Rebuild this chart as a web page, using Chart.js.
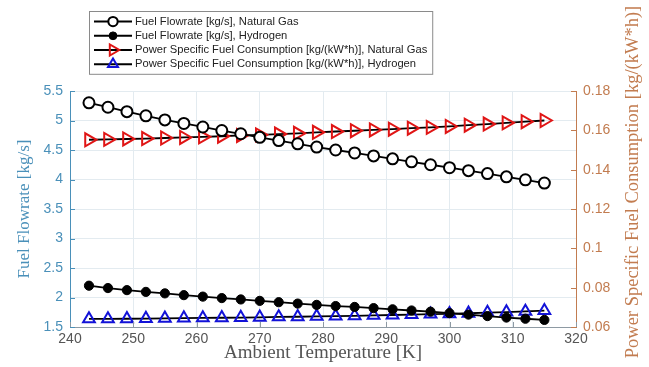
<!DOCTYPE html>
<html>
<head>
<meta charset="utf-8">
<script src="https://cdn.jsdelivr.net/npm/chart.js@4.4.1/dist/chart.umd.min.js"></script>
<style>
  html, body { margin: 0; padding: 0; background: #ffffff; }
  #wrap { width: 649px; height: 367px; }
</style>
</head>
<body>
<div id="wrap"><canvas id="chart" width="649" height="367"></canvas></div>
<script>
// Ambient temperature samples [K]
const temperatures = [243, 246, 249, 252, 255, 258, 261, 264, 267, 270, 273, 276, 279,
                      282, 285, 288, 291, 294, 297, 300, 303, 306, 309, 312, 315];

// Fuel flowrate [kg/s]
const ngFlow = [5.30, 5.225, 5.15, 5.08, 5.01, 4.95, 4.89, 4.83, 4.775, 4.715, 4.66, 4.605, 4.55,
                4.50, 4.45, 4.40, 4.35, 4.30, 4.25, 4.20, 4.15, 4.10, 4.045, 3.995, 3.94];
const h2Flow = [2.20, 2.16, 2.125, 2.095, 2.07, 2.04, 2.015, 1.99, 1.967, 1.943, 1.92, 1.897, 1.875,
                1.855, 1.84, 1.82, 1.80, 1.78, 1.76, 1.735, 1.71, 1.685, 1.66, 1.64, 1.62];

// Power specific fuel consumption [kg/(kW*h)]
const ngPsfc = [0.1552, 0.1554, 0.1556, 0.1558, 0.1561, 0.1564, 0.1567, 0.1570, 0.1574, 0.1577,
                0.1581, 0.1585, 0.1590, 0.1594, 0.1598, 0.1602, 0.1606, 0.1611, 0.1615, 0.1620,
                0.1626, 0.1632, 0.1638, 0.1644, 0.1650];
const h2Psfc = [0.0641, 0.0641, 0.0642, 0.0643, 0.0644, 0.0645, 0.0646, 0.0647, 0.0648, 0.0649,
                0.0651, 0.0652, 0.0654, 0.0655, 0.0657, 0.0659, 0.0661, 0.0663, 0.0665, 0.0667,
                0.0670, 0.0673, 0.0676, 0.0679, 0.0683];

const seriesLabels = [
  'Fuel Flowrate [kg/s], Natural Gas',
  'Fuel Flowrate [kg/s], Hydrogen',
  'Power Specific Fuel Consumption [kg/(kW*h)], Natural Gas',
  'Power Specific Fuel Consumption [kg/(kW*h)], Hydrogen'
];

const xTitle = 'Ambient Temperature [K]';
const leftTitle = 'Fuel Flowrate [kg/s]';
const rightTitle = 'Power Specific Fuel Consumption [kg/(kW*h)]';

const xRange = [240, 320, 10];
const leftRange = [1.5, 5.5, 0.5];
const rightRange = [0.06, 0.18, 0.02];

const LEFT_COLOR = '#4a90b9';
const RIGHT_COLOR = '#c27c50';
const AXIS_GRAY = '#555555';
const GRID_COLOR = '#e3ebf0';
const SANS = '"Liberation Sans", Arial, Helvetica, sans-serif';
const SERIF = '"Liberation Serif", "Times New Roman", serif';

function pts(ys) { return temperatures.map((t, i) => ({ x: t, y: ys[i] })); }
function fmt(v) { return String(Math.round(v * 1000) / 1000); }

// Inward tick marks like a MATLAB axes box
const innerTicks = {
  id: 'innerTicks',
  afterDraw(chart) {
    const { ctx, chartArea: a } = chart;
    const len = 5;
    ctx.save();
    ctx.lineWidth = 1;
    const xs = chart.scales.x;
    ctx.strokeStyle = '#8e9aa3';
    xs.ticks.forEach(t => {
      const p = Math.round(xs.getPixelForValue(t.value)) + 0.5;
      ctx.beginPath(); ctx.moveTo(p, a.bottom); ctx.lineTo(p, a.bottom - len); ctx.stroke();
    });
    const yl = chart.scales.y;
    ctx.strokeStyle = LEFT_COLOR;
    yl.ticks.forEach(t => {
      const p = Math.round(yl.getPixelForValue(t.value)) + 0.5;
      ctx.beginPath(); ctx.moveTo(a.left, p); ctx.lineTo(a.left + len, p); ctx.stroke();
    });
    const yr = chart.scales.y2;
    ctx.strokeStyle = RIGHT_COLOR;
    yr.ticks.forEach(t => {
      const p = Math.round(yr.getPixelForValue(t.value)) + 0.5;
      ctx.beginPath(); ctx.moveTo(a.right, p); ctx.lineTo(a.right - len, p); ctx.stroke();
    });
    ctx.restore();
  }
};

// Axis titles: both y titles read bottom-to-top
const axisTitles = {
  id: 'axisTitles',
  afterDraw(chart) {
    const { ctx, chartArea: a } = chart;
    ctx.save();
    ctx.textAlign = 'center';
    ctx.textBaseline = 'middle';

    ctx.fillStyle = '#555555';
    ctx.font = '19px ' + SERIF;
    ctx.fillText(xTitle, (a.left + a.right) / 2, 353);

    ctx.fillStyle = LEFT_COLOR;
    ctx.font = '17px ' + SERIF;
    ctx.translate(25, (a.top + a.bottom) / 2);
    ctx.rotate(-Math.PI / 2);
    ctx.fillText(leftTitle, 0, 0);
    ctx.restore();

    ctx.save();
    ctx.textAlign = 'center';
    ctx.textBaseline = 'middle';
    ctx.fillStyle = RIGHT_COLOR;
    ctx.font = '18.5px ' + SERIF;
    ctx.translate(633, 182);
    ctx.rotate(-Math.PI / 2);
    ctx.fillText(rightTitle, 0, 0);
    ctx.restore();
  }
};

// Boxed legend with line + marker samples
const boxLegend = {
  id: 'boxLegend',
  afterDraw(chart) {
    const { ctx } = chart;
    const x0 = 89, y0 = 11, rowH = 14.2, lineLen = 38, pad = 5, gap = 3;
    ctx.save();
    ctx.font = '11.2px ' + SANS;
    const maxW = Math.max(...chart.data.datasets.map(d => ctx.measureText(d.label).width));
    const w = pad + lineLen + gap + maxW + 5;
    const h = rowH * chart.data.datasets.length + 6;
    ctx.fillStyle = '#ffffff';
    ctx.fillRect(x0, y0, w, h);
    ctx.strokeStyle = '#8a8a8a';
    ctx.lineWidth = 1;
    ctx.strokeRect(x0 + 0.5, y0 + 0.5, w, h);
    chart.data.datasets.forEach((d, i) => {
      const cy = y0 + 3 + rowH * (i + 0.5) + 0.5;
      const lx = x0 + pad;
      ctx.strokeStyle = '#000000';
      ctx.lineWidth = 2;
      ctx.beginPath(); ctx.moveTo(lx, cy); ctx.lineTo(lx + lineLen, cy); ctx.stroke();
      ctx.fillStyle = d.pointBackgroundColor;
      ctx.strokeStyle = d.pointBorderColor;
      ctx.lineWidth = d.pointBorderWidth;
      const opts = { pointStyle: d.pointStyle, radius: d.pointRadius * 0.85, rotation: d.pointRotation || 0, borderWidth: d.pointBorderWidth };
      if (Chart.helpers && Chart.helpers.drawPoint) {
        Chart.helpers.drawPoint(ctx, opts, lx + lineLen / 2, cy);
      }
      ctx.fillStyle = '#222222';
      ctx.textAlign = 'left';
      ctx.textBaseline = 'middle';
      ctx.fillText(d.label, lx + lineLen + gap, cy);
    });
    ctx.restore();
  }
};

const lineCommon = { borderColor: '#000000', borderWidth: 1.8, fill: false, tension: 0, clip: false };

new Chart(document.getElementById('chart'), {
  type: 'line',
  data: {
    datasets: [
      Object.assign({}, lineCommon, {
        label: seriesLabels[0], data: pts(ngFlow), yAxisID: 'y',
        pointStyle: 'circle', pointRadius: 5.5, pointBorderWidth: 2,
        pointBorderColor: '#000000', pointBackgroundColor: '#ffffff'
      }),
      Object.assign({}, lineCommon, {
        label: seriesLabels[1], data: pts(h2Flow), yAxisID: 'y',
        pointStyle: 'circle', pointRadius: 4.6, pointBorderWidth: 1,
        pointBorderColor: '#000000', pointBackgroundColor: '#000000'
      }),
      Object.assign({}, lineCommon, {
        label: seriesLabels[2], data: pts(ngPsfc), yAxisID: 'y2',
        pointStyle: 'triangle', pointRotation: 90, pointRadius: 7.5, pointBorderWidth: 2,
        pointBorderColor: '#e01515', pointBackgroundColor: 'rgba(0,0,0,0)'
      }),
      Object.assign({}, lineCommon, {
        label: seriesLabels[3], data: pts(h2Psfc), yAxisID: 'y2',
        pointStyle: 'triangle', pointRotation: 0, pointRadius: 6.8, pointBorderWidth: 2,
        pointBorderColor: '#1212d8', pointBackgroundColor: 'rgba(0,0,0,0)'
      })
    ]
  },
  options: {
    responsive: false,
    animation: false,
    devicePixelRatio: 1,
    layout: { padding: { top: 91, left: 0, right: 0, bottom: 0 } },
    plugins: { legend: { display: false }, tooltip: { enabled: false } },
    elements: { point: { hoverRadius: 0 } },
    scales: {
      x: {
        type: 'linear', position: 'bottom',
        min: xRange[0], max: xRange[1],
        ticks: { stepSize: xRange[2], color: AXIS_GRAY, font: { family: SANS, size: 14 }, padding: 4, maxRotation: 0 },
        grid: { color: GRID_COLOR, drawTicks: false },
        border: { color: '#8e9aa3', width: 1 },
        afterFit(s) { s.height = 40; }
      },
      y: {
        type: 'linear', position: 'left',
        min: leftRange[0], max: leftRange[1],
        ticks: { stepSize: leftRange[2], color: LEFT_COLOR, font: { family: SANS, size: 14 }, padding: 7, callback: fmt },
        grid: { color: GRID_COLOR, drawTicks: false },
        border: { color: LEFT_COLOR, width: 1 },
        afterFit(s) { s.width = 70; }
      },
      y2: {
        type: 'linear', position: 'right',
        min: rightRange[0], max: rightRange[1],
        ticks: { stepSize: rightRange[2], color: RIGHT_COLOR, font: { family: SANS, size: 14 }, padding: 7, callback: fmt },
        grid: { display: false, drawTicks: false },
        border: { color: RIGHT_COLOR, width: 1 },
        afterFit(s) { s.width = 73; }
      }
    }
  },
  plugins: [innerTicks, axisTitles, boxLegend]
});
</script>
</body>
</html>
